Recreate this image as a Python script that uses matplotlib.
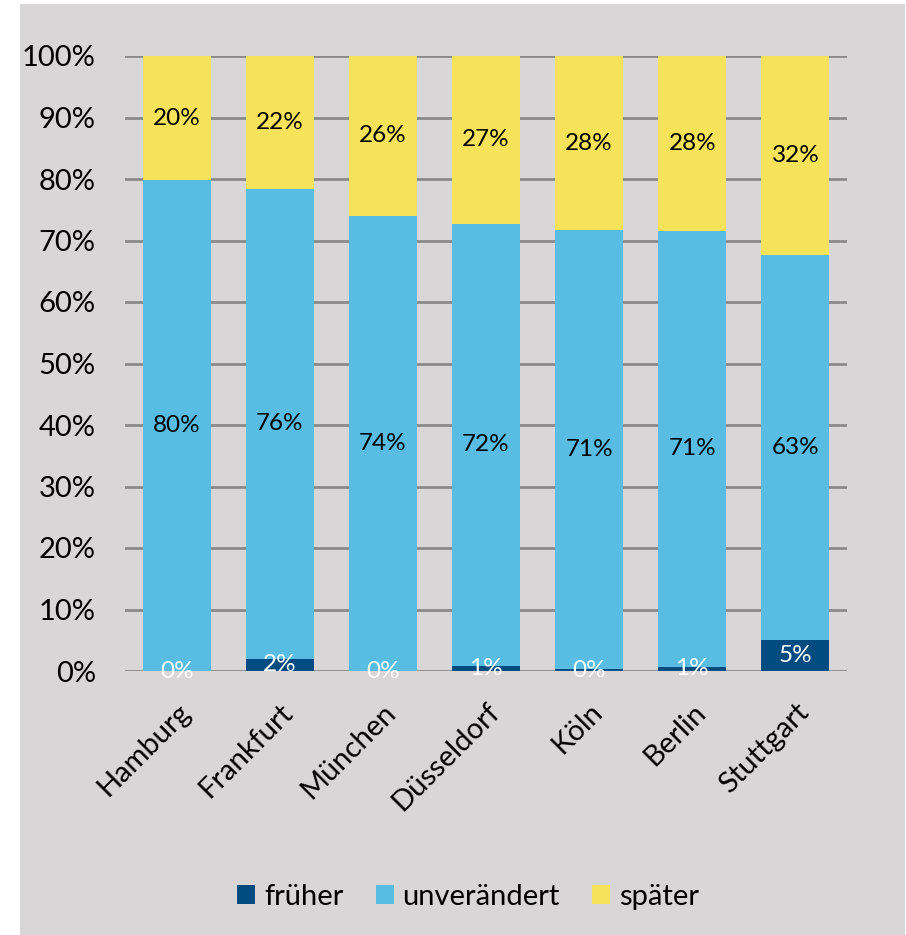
import numpy as np
import matplotlib.pyplot as plt
from matplotlib.patches import Rectangle, Patch

# -------------------------------------------------------------
# Daten (Anteile in %)
# -------------------------------------------------------------
staedte = ["Hamburg", "Frankfurt", "München", "Düsseldorf", "Köln", "Berlin", "Stuttgart"]
frueher = [0.0, 2.0, 0.0, 0.8, 0.3, 0.7, 5.0]
unveraendert = [79.8, 76.4, 74.0, 71.9, 71.4, 70.9, 62.6]
spaeter = [20.2, 21.6, 26.0, 27.3, 28.3, 28.4, 32.4]

farben = ["#004b80", "#59bde3", "#f7e35a"]
namen = ["früher", "unverändert", "später"]
hintergrund = "#d8d6d7"

plt.rcParams["font.family"] = ["Lato", "DejaVu Sans"]

fig = plt.figure(figsize=(9.06, 9.35), dpi=100)
fig.patch.set_facecolor("white")

# grauer Rahmen hinter dem Diagramm
fig.patches.append(Rectangle((20 / 906, 0), 885 / 906, 931 / 935,
                             transform=fig.transFigure, facecolor=hintergrund,
                             edgecolor="none", zorder=-10))

ax = fig.add_axes([125 / 906, 1 - 671 / 935, 722 / 906, 615 / 935])
ax.set_facecolor("none")
ax.set_zorder(5)

x = np.arange(len(staedte))
breite = 0.66

reihen = [frueher, unveraendert, spaeter]
textfarben = ["white", "black", "black"]
unten = np.zeros(len(staedte))

for werte, farbe, name, tf in zip(reihen, farben, namen, textfarben):
    werte = np.array(werte)
    ax.bar(x, werte, breite, bottom=unten, color=farbe, label=name, zorder=3)
    for xi, b, w in zip(x, unten, werte):
        ax.text(xi, b + w / 2, f"{w:.0f}%", ha="center", va="center",
                fontsize=17.5, color=tf, zorder=4)
    unten += werte

# Gitterlinien
for yv in range(0, 101, 10):
    ax.axhline(yv, color="#8a8a8a", linewidth=2, zorder=1)

ax.set_xlim(-0.5, len(staedte) - 0.5)
ax.set_ylim(0, 100)
ax.set_yticks(range(0, 101, 10))
ax.set_yticklabels([f"{v}%" for v in range(0, 101, 10)], fontsize=21)
ax.set_xticks(x)
ax.set_xticklabels(staedte, rotation=45, ha="right", rotation_mode="anchor",
                   fontsize=21)
ax.tick_params(axis="y", length=0, pad=21)
ax.tick_params(axis="x", length=0, pad=20)

for s in ax.spines.values():
    s.set_visible(False)

griffe = [Patch(facecolor=f, edgecolor="none") for f in farben]
fig.legend(griffe, namen, loc="center", bbox_to_anchor=(468 / 906, 1 - 897 / 935),
           ncol=3, frameon=False, fontsize=21, handlelength=0.62, handleheight=0.62,
           handletextpad=0.3, columnspacing=1.1)

plt.savefig("out.png", dpi=100, facecolor="white")
